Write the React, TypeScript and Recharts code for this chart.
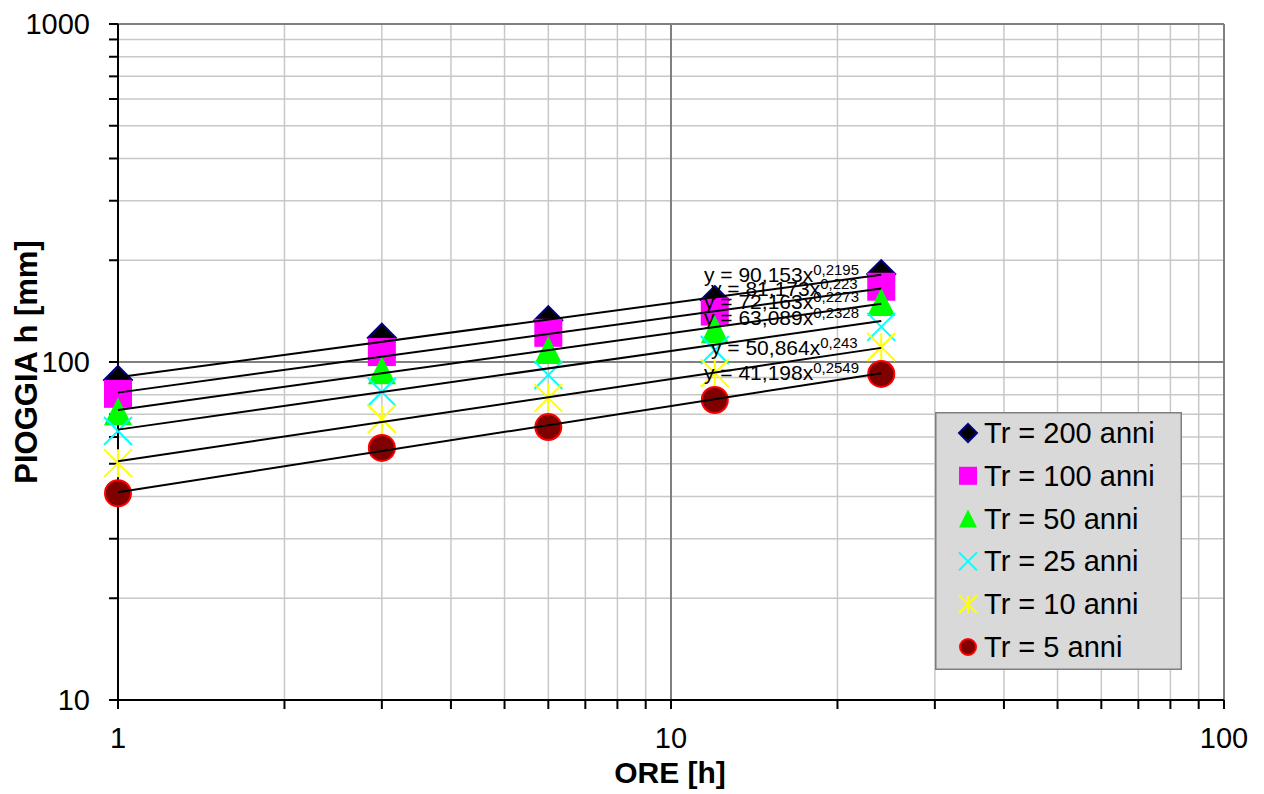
import { ScatterChart, Scatter, XAxis, YAxis, CartesianGrid, ReferenceLine, Legend } from 'recharts';

// durata della pioggia [h]
const DURATIONS = [1, 3, 6, 12, 24];

// altezze di pioggia [mm] per tempo di ritorno
const H_TR200 = [88.5, 118, 133, 152.5, 182];
const H_TR100 = [80.5, 107, 122, 141, 167];
const H_TR50 = [71.5, 94.5, 108.5, 125, 150.5];
const H_TR25 = [62.5, 81.5, 91.5, 108.5, 127];
const H_TR10 = [50.2, 67.8, 78.3, 92.7, 110.8];
const H_TR5 = [40.9, 55.7, 64.2, 77.2, 92.2];

const SERIES_NAMES = ['Tr = 200 anni', 'Tr = 100 anni', 'Tr = 50 anni', 'Tr = 25 anni', 'Tr = 10 anni', 'Tr = 5 anni'];
const SERIES_VALUES = [H_TR200, H_TR100, H_TR50, H_TR25, H_TR10, H_TR5];

// linee di tendenza di potenza y = a * x^n
const TREND_A = [90.153, 81.173, 72.163, 63.089, 50.864, 41.198];
const TREND_N = [0.2195, 0.223, 0.2273, 0.2328, 0.243, 0.2549];

const X_TICKS = [1, 2, 3, 4, 5, 6, 7, 8, 9, 10, 20, 30, 40, 50, 60, 70, 80, 90, 100];
const Y_TICKS = [10, 20, 30, 40, 50, 60, 70, 80, 90, 100, 200, 300, 400, 500, 600, 700, 800, 900, 1000];
const X_LABELS = [1, 10, 100];
const Y_LABELS = [10, 100, 1000];

const FONT = '"Liberation Sans", Arial, sans-serif';

type MarkerKind = 'diamond' | 'square' | 'triangle' | 'cross' | 'star' | 'circle';
const MARKERS: MarkerKind[] = ['diamond', 'square', 'triangle', 'cross', 'star', 'circle'];

// posizione delle equazioni delle tendenze
const EQ_POS = [
    { x: 704, y: 282 },
    { x: 711, y: 296 },
    { x: 704, y: 309 },
    { x: 704, y: 325 },
    { x: 711, y: 355 },
    { x: 704, y: 380 },
];

const fmt = (v: number) => String(v).replace('.', ',');

function Marker({ kind, cx, cy, r }: { kind: MarkerKind; cx: number; cy: number; r: number }) {
    switch (kind) {
        case 'diamond':
            return (
                <polygon
                    points={`${cx},${cy - r} ${cx + r},${cy} ${cx},${cy + r} ${cx - r},${cy}`}
                    fill="#000000" stroke="#000080" strokeWidth={2}
                />
            );
        case 'square':
            return <rect x={cx - r} y={cy - r} width={2 * r} height={2 * r} fill="#ff00ff" />;
        case 'triangle':
            return <polygon points={`${cx},${cy - r} ${cx + r},${cy + r} ${cx - r},${cy + r}`} fill="#00ff00" />;
        case 'cross':
            return (
                <g stroke="#00ffff" strokeWidth={2}>
                    <line x1={cx - r} y1={cy - r} x2={cx + r} y2={cy + r} />
                    <line x1={cx - r} y1={cy + r} x2={cx + r} y2={cy - r} />
                </g>
            );
        case 'star':
            return (
                <g stroke="#ffff00" strokeWidth={2}>
                    <line x1={cx - r} y1={cy - r} x2={cx + r} y2={cy + r} />
                    <line x1={cx - r} y1={cy + r} x2={cx + r} y2={cy - r} />
                    <line x1={cx} y1={cy - r} x2={cx} y2={cy + r} />
                </g>
            );
        default:
            return <circle cx={cx} cy={cy} r={r - 1} fill="#800000" stroke="#ff0000" strokeWidth={2} />;
    }
}

function LegendBox() {
    return (
        <svg width={247} height={258} style={{ display: 'block' }}>
            <rect x={0.75} y={0.75} width={245.5} height={256.5} fill="#d9d9d9" stroke="#7f7f7f" strokeWidth={1.5} />
            {SERIES_NAMES.map((name, i) => {
                const cy = 21 + i * 42.8;
                return (
                    <g key={name}>
                        <Marker kind={MARKERS[i]} cx={33} cy={cy} r={9} />
                        <text x={49} y={cy + 10} fontSize={29} fontFamily={FONT} fill="#000">{name}</text>
                    </g>
                );
            })}
        </svg>
    );
}

export default function App() {
    const scatterData = SERIES_VALUES.map((vals) => DURATIONS.map((x, j) => ({ x, y: vals[j] })));
    const first = DURATIONS[0];
    const last = DURATIONS[DURATIONS.length - 1];
    const trendData = TREND_A.map((a, i) => [
        { x: first, y: a * Math.pow(first, TREND_N[i]) },
        { x: last, y: a * Math.pow(last, TREND_N[i]) },
    ]);

    return (
        <div style={{ position: 'absolute', left: 0, top: 0, width: 1264, height: 794, background: '#fff', fontFamily: FONT }}>
            <ScatterChart width={1264} height={794} margin={{ top: 24, right: 40, bottom: 34, left: 28 }}>
                <CartesianGrid stroke="#c8c8c8" strokeWidth={1.5} />
                <XAxis
                    type="number" dataKey="x" scale="log" domain={[1, 100]}
                    ticks={X_TICKS} interval={0} height={60}
                    tickFormatter={(v: number) => (X_LABELS.includes(v) ? String(v) : '')}
                    tickSize={9} tickMargin={18}
                    stroke="#000" strokeWidth={2}
                    tick={{ fill: '#000', fontSize: 29, fontFamily: FONT }}
                />
                <YAxis
                    type="number" dataKey="y" scale="log" domain={[10, 1000]}
                    ticks={Y_TICKS} interval={0} width={90}
                    tickFormatter={(v: number) => (Y_LABELS.includes(v) ? String(v) : '')}
                    tickSize={9} tickMargin={19}
                    stroke="#000" strokeWidth={2}
                    tick={{ fill: '#000', fontSize: 29, fontFamily: FONT }}
                />
                <ReferenceLine x={10} stroke="#808080" strokeWidth={2} />
                <ReferenceLine x={100} stroke="#808080" strokeWidth={2} />
                <ReferenceLine y={100} stroke="#808080" strokeWidth={2} />
                <ReferenceLine y={1000} stroke="#808080" strokeWidth={2} />
                {scatterData.map((data, i) => (
                    <Scatter
                        key={SERIES_NAMES[i]}
                        name={SERIES_NAMES[i]}
                        data={data}
                        isAnimationActive={false}
                        shape={(p: any) => <Marker kind={MARKERS[i]} cx={p.cx} cy={p.cy} r={14} />}
                    />
                ))}
                {trendData.map((data, i) => (
                    <Scatter
                        key={`trend-${i}`}
                        data={data}
                        isAnimationActive={false}
                        line={{ stroke: '#000', strokeWidth: 2 }}
                        shape={() => <g />}
                        legendType="none"
                    />
                ))}
                <Legend
                    layout="vertical" align="center" verticalAlign="middle"
                    wrapperStyle={{ left: 935, top: 412, width: 247, height: 258 }}
                    content={() => <LegendBox />}
                />
            </ScatterChart>
            <svg width={1264} height={794} style={{ position: 'absolute', left: 0, top: 0, pointerEvents: 'none' }}>
                {TREND_A.map((a, i) => (
                    <text key={`eq-${i}`} x={EQ_POS[i].x} y={EQ_POS[i].y} fontSize={21} fontFamily={FONT} fill="#000">
                        {`y = ${fmt(a)}x`}
                        <tspan dy={-7} fontSize={15}>{fmt(TREND_N[i])}</tspan>
                    </text>
                ))}
                <text x={670} y={783} textAnchor="middle" fontSize={30} fontWeight="bold" fontFamily={FONT} fill="#000">
                    ORE [h]
                </text>
                <text
                    x={37} y={362} textAnchor="middle" fontSize={31} fontWeight="bold" fontFamily={FONT} fill="#000"
                    transform="rotate(-90 37 362)"
                >
                    PIOGGIA h [mm]
                </text>
            </svg>
        </div>
    );
}
